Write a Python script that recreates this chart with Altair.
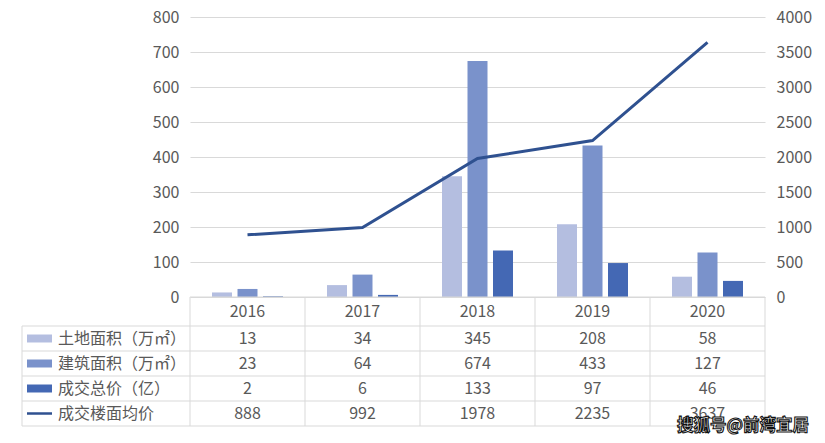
import altair as alt
import pandas as pd

years = ["2016", "2017", "2018", "2019", "2020"]
land_area = [13, 34, 345, 208, 58]
build_area = [23, 64, 674, 433, 127]
total_price = [2, 6, 133, 97, 46]
avg_price = [888, 992, 1978, 2235, 3637]
series_names = ["土地面积（万㎡）", "建筑面积（万㎡）", "成交总价（亿）", "成交楼面均价"]
bar_colors = ["#B4BEE0", "#7A92CB", "#4468B4"]
line_color = "#2F5190"
watermark = "搜狐号@前湾宜居"

FONT = "Noto Sans CJK SC"
TXT = "#595959"
GRID = "#D9D9D9"
FS = 16
W, H = 575, 280

bars = []
for name, vals in zip(series_names[:3], [land_area, build_area, total_price]):
    for y, v in zip(years, vals):
        bars.append({"year": y, "series": name, "value": v})
bars_df = pd.DataFrame(bars)
line_df = pd.DataFrame({"year": years, "avg": avg_price})

xband = alt.X("year:N", sort=years, axis=None,
              scale=alt.Scale(domain=years, paddingInner=0, paddingOuter=0))

bar_layer = alt.Chart(bars_df).mark_bar(size=20).encode(
    x=xband,
    xOffset=alt.XOffset("series:N", sort=series_names[:3],
                        scale=alt.Scale(domain=series_names[:3], paddingInner=0.2157, paddingOuter=0.8627)),
    y=alt.Y("value:Q", scale=alt.Scale(domain=[0, 800]),
            axis=alt.Axis(values=list(range(0, 801, 100)), title=None, domain=False, ticks=False,
                          gridColor=GRID, labelFont=FONT, labelFontSize=FS, labelColor=TXT,
                          labelPadding=11, format="d")),
    color=alt.Color("series:N", sort=series_names[:3],
                    scale=alt.Scale(domain=series_names[:3], range=bar_colors), legend=None),
)

line_layer = alt.Chart(line_df).mark_line(color=line_color, strokeWidth=3).encode(
    x=xband,
    y=alt.Y("avg:Q", scale=alt.Scale(domain=[0, 4000]),
            axis=alt.Axis(orient="right", values=list(range(0, 4001, 500)), title=None, domain=False,
                          ticks=False, grid=False, labelFont=FONT, labelFontSize=FS, labelColor=TXT,
                          labelPadding=11, format="d")),
)

plot = alt.layer(bar_layer, line_layer).resolve_scale(y="independent")

# --- data table ---
row_y = [280, 309, 334, 359, 384, 409]
col_x = [0, 115, 230, 345, 460, 575]
left_x = -168
lines = []
lines.append({"x": 0, "x2": W, "y": row_y[0], "y2": row_y[0]})
for ry in row_y[1:]:
    lines.append({"x": left_x, "x2": W, "y": ry, "y2": ry})
for cx in col_x:
    lines.append({"x": cx, "x2": cx, "y": row_y[0], "y2": row_y[-1]})
lines.append({"x": left_x, "x2": left_x, "y": row_y[1], "y2": row_y[-1]})
lines_df = pd.DataFrame(lines)
table_lines = alt.Chart(lines_df).mark_rule(color=GRID, strokeWidth=1).encode(
    x=alt.X("x:Q", scale=None), x2="x2:Q",
    y=alt.Y("y:Q", scale=None), y2="y2:Q",
)

header = alt.Chart(pd.DataFrame({"year": years})).mark_text(
    font=FONT, fontSize=FS, color=TXT, baseline="middle").encode(
    x=xband, y=alt.value((row_y[0] + row_y[1]) / 2), text="year:N")

cells = []
for i, vals in enumerate([land_area, build_area, total_price, avg_price]):
    for y, v in zip(years, vals):
        cells.append({"year": y, "txt": str(v), "row": i})
cells_df = pd.DataFrame(cells)
cells_df["ry"] = [(row_y[r + 1] + row_y[r + 2]) / 2 for r in cells_df["row"]]
cell_text = alt.Chart(cells_df).mark_text(
    font=FONT, fontSize=FS, color=TXT, baseline="middle").encode(
    x=xband, y=alt.Y("ry:Q", scale=None), text="txt:N")

leg_df = pd.DataFrame({"name": series_names, "row": [0, 1, 2, 3]})
leg_df["ry"] = [(row_y[r + 1] + row_y[r + 2]) / 2 for r in leg_df["row"]]
leg_df["color"] = bar_colors + [line_color]
leg_text = alt.Chart(leg_df).mark_text(
    font=FONT, fontSize=FS, color=TXT, baseline="middle", align="left").encode(
    x=alt.value(-132), y=alt.Y("ry:Q", scale=None), text="name:N")
leg_sw = alt.Chart(leg_df.iloc[:3]).mark_rect().encode(
    x=alt.value(-163), x2=alt.value(-138),
    y=alt.Y("y1:Q", scale=None), y2="y2:Q",
    color=alt.Color("color:N", scale=None),
).transform_calculate(y1="datum.ry - 4", y2="datum.ry + 4")
leg_line = alt.Chart(leg_df.iloc[3:]).mark_rule(color=line_color, strokeWidth=2.5).encode(
    x=alt.value(-163), x2=alt.value(-138), y=alt.Y("ry:Q", scale=None))

wm = alt.Chart(pd.DataFrame({"t": [watermark]})).mark_text(
    font=FONT, fontSize=16.5, fontWeight="bold", fill="white", stroke="#111111", strokeWidth=1.1,
    align="left", baseline="middle").encode(
    x=alt.value(487), y=alt.value(409), text="t:N")

chart = alt.layer(plot, table_lines, header, cell_text, leg_sw, leg_line, leg_text, wm).properties(
    width=W, height=H,
    autosize=alt.AutoSizeParams(type="none"),
    padding={"left": 182, "top": 9, "right": 52, "bottom": 140},
).configure_view(stroke=None)

chart.save("out.html", embed_options={"renderer": "svg", "actions": False})
